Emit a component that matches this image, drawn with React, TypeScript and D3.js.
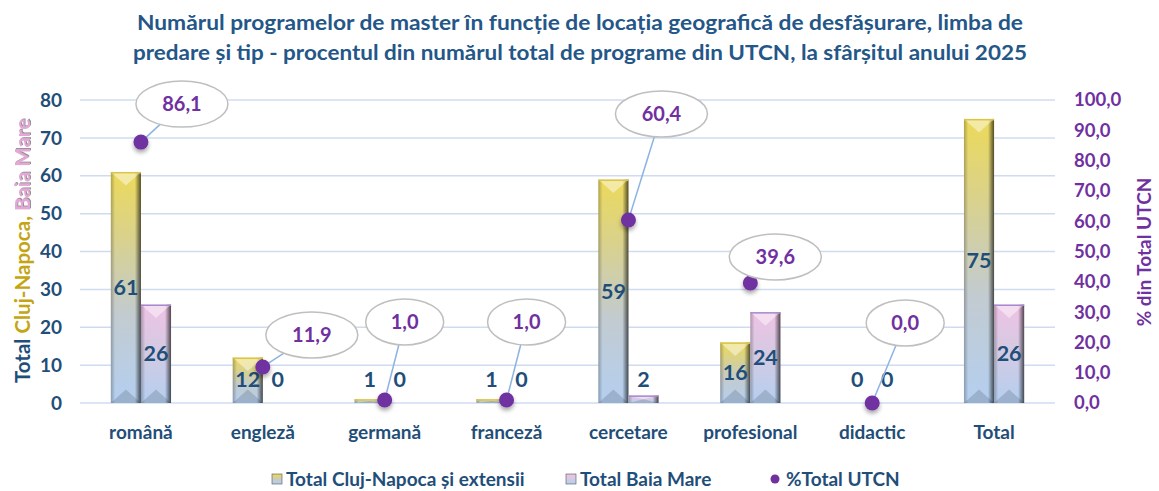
import React from "react";
import * as d3 from "d3";

const categories = ["română", "engleză", "germană", "franceză", "cercetare", "profesional", "didactic", "Total"];
const clujValues = [61, 12, 1, 1, 59, 16, 0, 75];
const baiaMareValues = [26, 0, 0, 0, 2, 24, 0, 26];
const percentUTCN: (number | null)[] = [86.1, 11.9, 1.0, 1.0, 60.4, 39.6, 0.0, null];
const leftTicks = [0, 10, 20, 30, 40, 50, 60, 70, 80];
const rightTicks = [0, 10, 20, 30, 40, 50, 60, 70, 80, 90, 100];
const titleLines = [
  "Numărul programelor de master în funcție de locația geografică de desfășurare, limba de",
  "predare și tip - procentul din numărul total de programe din UTCN, la sfârșitul anului 2025",
];
const legendLabels = ["Total Cluj-Napoca și extensii", "Total Baia Mare", "%Total UTCN"];

// callout label offsets (px) relative to each point
const calloutOffsets = [
  [41, -38], [49, -32], [20, -78], [20, -78], [33, -106], [25, -26], [33, -80], [0, 0],
];

const W = 1159, H = 491;
const NAVY = "#1f4e79";
const TITLE = "#245688";
const PURPLE = "#7030a0";
const FONT = "Lato, 'Liberation Sans', sans-serif";

export default function App() {
  const left = 80, right = 1055, top = 100, bottom = 403;
  const x = d3.scaleBand<string>().domain(categories).range([left, right]).padding(0);
  const yL = d3.scaleLinear().domain([0, 80]).range([bottom, top]);
  const yR = d3.scaleLinear().domain([0, 100]).range([bottom, top]);
  const bw = x.bandwidth();
  const barW = bw * 0.247;
  const fmt = (v: number) => v.toFixed(1).replace(".", ",");

  const bar = (bx: number, v: number, grad: string, topCol: string, key: string) => {
    const y0 = yL(v), h = yL(0) - y0;
    if (h <= 0) return null;
    const b = Math.min(barW * 0.45, h / 2);
    return (
      <g key={key}>
        <rect x={bx} y={y0} width={barW} height={h} fill={`url(#${grad})`} />
        <rect x={bx} y={y0} width={barW} height={h} fill="url(#sideShade)" />
        <polygon points={`${bx},${y0} ${bx + barW},${y0} ${bx + barW / 2},${y0 + b}`} fill="#fff" opacity={0.45} />
        <polygon points={`${bx},${y0 + h} ${bx + barW},${y0 + h} ${bx + barW / 2},${y0 + h - b}`} fill="#000" opacity={0.14} />
        <line x1={bx} x2={bx + barW} y1={y0 + 0.75} y2={y0 + 0.75} stroke={topCol} strokeWidth={1.5} />
      </g>
    );
  };

  const valueLabel = (cx: number, v: number, key: string) => {
    const yy = Math.min(yL(v / 2), yL(0) - 24);
    return (
      <text key={key} x={cx} y={yy} dy="0.35em" textAnchor="middle" fontFamily={FONT} fontWeight={700} fontSize={21.5} fill={NAVY}>
        {v}
      </text>
    );
  };

  return (
    <svg width={W} height={H} style={{ position: "absolute", left: 0, top: 0, background: "#fff" }}>
      <defs>
        <linearGradient id="clujGrad" x1="0" y1="0" x2="0" y2="1">
          <stop offset="0" stopColor="#ecd95a" />
          <stop offset="0.3" stopColor="#d8d18f" />
          <stop offset="0.62" stopColor="#c2cbd0" />
          <stop offset="1" stopColor="#b4cff0" />
        </linearGradient>
        <linearGradient id="bmGrad" x1="0" y1="0" x2="0" y2="1">
          <stop offset="0" stopColor="#efc2e5" />
          <stop offset="0.45" stopColor="#d5cae2" />
          <stop offset="1" stopColor="#b4cff0" />
        </linearGradient>
        <linearGradient id="sideShade" x1="0" y1="0" x2="1" y2="0">
          <stop offset="0" stopColor="#000" stopOpacity={0.25} />
          <stop offset="0.14" stopColor="#000" stopOpacity={0.0} />
          <stop offset="0.8" stopColor="#000" stopOpacity={0.0} />
          <stop offset="1" stopColor="#000" stopOpacity={0.65} />
        </linearGradient>
        <filter id="ptShadow" x="-50%" y="-50%" width="200%" height="220%">
          <feDropShadow dx="0" dy="3" stdDeviation="2" floodColor="#000" floodOpacity="0.35" />
        </filter>
        <filter id="txtShadow" x="-10%" y="-10%" width="120%" height="120%">
          <feDropShadow dx="1" dy="1" stdDeviation="0.6" floodColor="#777" floodOpacity="0.8" />
        </filter>
      </defs>

      {/* title */}
      {titleLines.map((t, i) => (
        <text key={i} x={580} y={30 + i * 30} textAnchor="middle" fontFamily={FONT} fontWeight={700} fontSize={21.5}
          fill={TITLE} textLength={i === 0 ? 886 : 894} lengthAdjust="spacingAndGlyphs">
          {t}
        </text>
      ))}

      {/* gridlines */}
      {leftTicks.map((t) => (
        <line key={t} x1={left} x2={right} y1={yL(t)} y2={yL(t)} stroke="#cfdcf0" strokeWidth={1.5} />
      ))}

      {/* left ticks */}
      {leftTicks.map((t) => (
        <text key={t} x={62} y={yL(t)} dy="0.35em" textAnchor="end" fontFamily={FONT} fontWeight={700} fontSize={19} fill={NAVY}>
          {t}
        </text>
      ))}
      {/* right ticks */}
      {rightTicks.map((t) => (
        <text key={t} x={1074} y={yR(t)} dy="0.35em" textAnchor="start" fontFamily={FONT} fontWeight={700} fontSize={18.5} fill={PURPLE}>
          {fmt(t)}
        </text>
      ))}

      {/* axis titles */}
      <text transform={`translate(23,251) rotate(-90)`} dy="0.35em" textAnchor="middle" fontFamily={FONT} fontWeight={700} fontSize={20.5}>
        <tspan fill={NAVY}>Total </tspan>
        <tspan fill="#c3a512">Cluj-Napoca, </tspan>
        <tspan fill="#e3a8d6" filter="url(#txtShadow)">Baia Mare</tspan>
      </text>
      <text transform={`translate(1144,252) rotate(-90)`} dy="0.35em" textAnchor="middle" fontFamily={FONT} fontWeight={700} fontSize={19} fill={PURPLE}>
        % din Total UTCN
      </text>

      {/* bars */}
      {categories.map((c, i) => {
        const cx = x(c)! + bw / 2;
        return (
          <g key={c}>
            {bar(cx - barW, clujValues[i], "clujGrad", "#d9c548", `c${i}`)}
            {bar(cx, baiaMareValues[i], "bmGrad", "#a68ad0", `b${i}`)}
          </g>
        );
      })}

      {/* bar value labels */}
      {categories.map((c, i) => {
        const cx = x(c)! + bw / 2;
        return (
          <g key={c}>
            {valueLabel(cx - barW / 2, clujValues[i], `lc${i}`)}
            {valueLabel(cx + barW / 2, baiaMareValues[i], `lb${i}`)}
          </g>
        );
      })}

      {/* category labels */}
      {categories.map((c) => (
        <text key={c} x={x(c)! + bw / 2} y={432} dy="0.35em" textAnchor="middle" fontFamily={FONT} fontWeight={700} fontSize={19} fill={NAVY}>
          {c}
        </text>
      ))}

      {/* leader lines */}
      {categories.map((c, i) => {
        const v = percentUTCN[i];
        if (v == null) return null;
        const px = x(c)! + bw / 2, py = yR(v);
        const [dx, dy] = calloutOffsets[i];
        return <line key={c} x1={px} y1={py} x2={px + dx} y2={py + dy} stroke="#8db3e2" strokeWidth={1.5} />;
      })}

      {/* points */}
      {categories.map((c, i) => {
        const v = percentUTCN[i];
        if (v == null) return null;
        return <circle key={c} cx={x(c)! + bw / 2} cy={yR(v)} r={7.5} fill={PURPLE} filter="url(#ptShadow)" />;
      })}

      {/* callouts */}
      {categories.map((c, i) => {
        const v = percentUTCN[i];
        if (v == null) return null;
        const px = x(c)! + bw / 2, py = yR(v);
        const [dx, dy] = calloutOffsets[i];
        const s = fmt(v);
        const rx = 39 + (s.length - 3) * 7;
        return (
          <g key={c}>
            <ellipse cx={px + dx} cy={py + dy} rx={rx} ry={23} fill="#fff" stroke="#bfbfbf" strokeWidth={1.5} />
            <text x={px + dx} y={py + dy} dy="0.35em" textAnchor="middle" fontFamily={FONT} fontWeight={700} fontSize={20} fill={PURPLE}>
              {s}
            </text>
          </g>
        );
      })}

      {/* legend */}
      <g fontFamily={FONT} fontWeight={700} fontSize={19} fill={NAVY}>
        <rect x={272} y={474} width={10} height={10} fill="url(#clujGrad)" stroke="#555" strokeWidth={0.6} />
        <text x={286} y={479} dy="0.35em">{legendLabels[0]}</text>
        <rect x={566} y={474} width={10} height={10} fill="url(#bmGrad)" stroke="#555" strokeWidth={0.6} />
        <text x={580} y={479} dy="0.35em">{legendLabels[1]}</text>
        <circle cx={775} cy={479} r={4.5} fill={PURPLE} />
        <text x={786} y={479} dy="0.35em">{legendLabels[2]}</text>
      </g>
    </svg>
  );
}
